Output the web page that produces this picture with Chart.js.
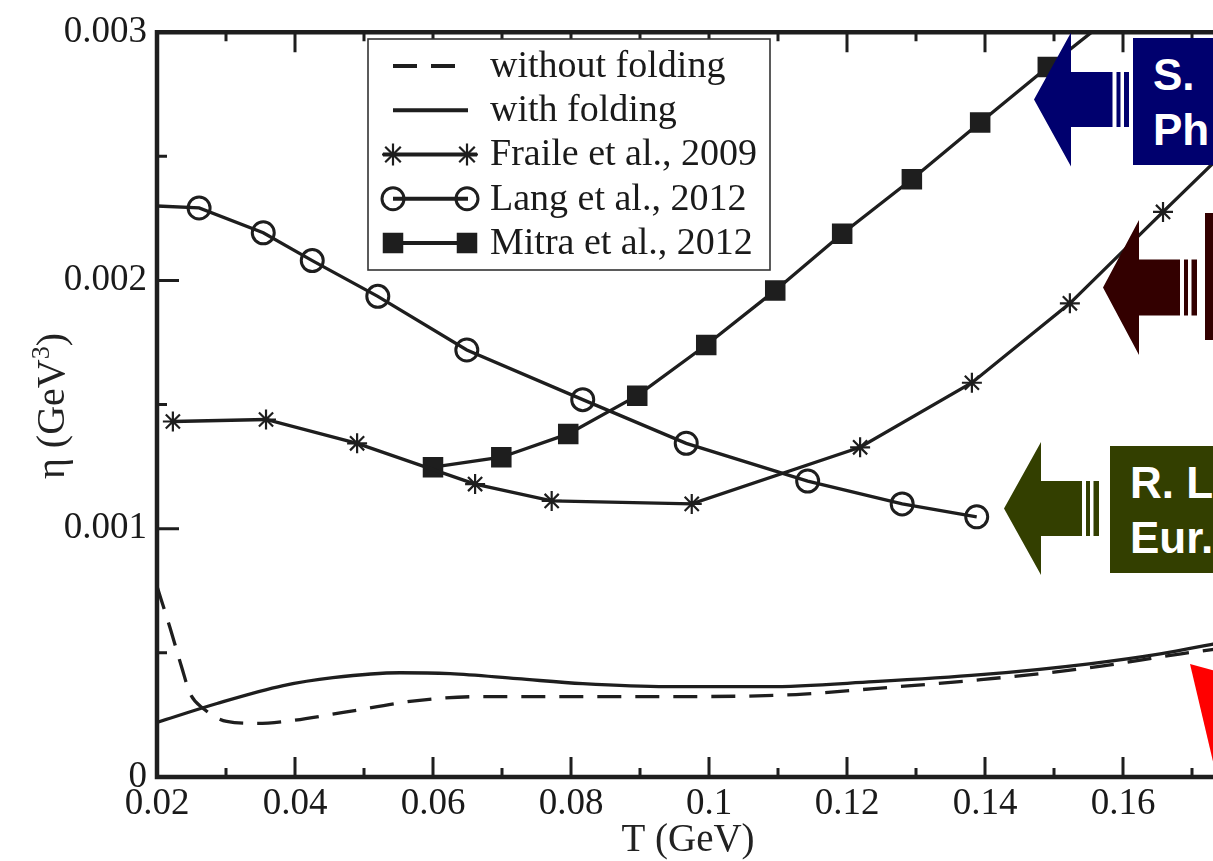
<!DOCTYPE html>
<html>
<head>
<meta charset="utf-8">
<script src="https://cdn.jsdelivr.net/npm/chart.js@4.4.1/dist/chart.umd.min.js"></script>
<style>
html, body { margin: 0; padding: 0; background: #fff; overflow: hidden; }
#wrap { position: relative; width: 1213px; height: 861px; overflow: hidden; }
#eta-canvas { position: absolute; left: 0; top: 0; }
.note {
    position: absolute; height: 127px; width: 420px; box-sizing: border-box;
    padding: 9px 0 0 20px; color: #fff; white-space: nowrap;
    font: bold 44px "Liberation Sans", Arial, sans-serif; line-height: 55px;
}
</style>
</head>
<body>
<div id="wrap">
    <canvas id="eta-canvas" width="1301" height="861"></canvas>
    <div class="note" style="left:1133px; top:38px; background:#00006e">S.<br>Ph</div>
    <div class="note" style="left:1205px; top:213px; background:#330000"></div>
    <div class="note" style="left:1110px; top:446px; background:#333f00">R. L<br>Eur.</div>
</div>
<script>
// axis ticks
const xTickVals = [0.02, 0.04, 0.06, 0.08, 0.10, 0.12, 0.14, 0.16, 0.18];
const xTickLabels = ['0.02', '0.04', '0.06', '0.08', '0.1', '0.12', '0.14', '0.16', '0.18'];
const xMinorVals = [0.03, 0.05, 0.07, 0.09, 0.11, 0.13, 0.15, 0.17];
const yTickVals = [0, 0.001, 0.002, 0.003];
const yTickLabels = ['0', '0.001', '0.002', '0.003'];
const yMinorVals = [0.0005, 0.0015, 0.0025];

// without folding (dashed)
const noFoldT   = [0.02, 0.0219, 0.0236, 0.0248, 0.0267, 0.0301, 0.0345, 0.0397, 0.047, 0.0577, 0.0672, 0.077, 0.0939, 0.1126, 0.1239, 0.1394, 0.1551, 0.1684, 0.18];
const noFoldEta = [0.000768, 0.0006, 0.00044, 0.000336, 0.000276, 0.000224, 0.000216, 0.000228, 0.00026, 0.000308, 0.000324, 0.000324, 0.000324, 0.000332, 0.000356, 0.000392, 0.00044, 0.000496, 0.00054];

// with folding (solid)
const foldT   = [0.02, 0.0287, 0.0383, 0.0455, 0.0552, 0.0625, 0.0722, 0.0817, 0.0939, 0.1084, 0.1239, 0.1394, 0.1551, 0.1654, 0.174, 0.18];
const foldEta = [0.00022, 0.000296, 0.000368, 0.0004, 0.00042, 0.000416, 0.000396, 0.000376, 0.000364, 0.000364, 0.000384, 0.000412, 0.000456, 0.000496, 0.00054, 0.00057];

// Fraile et al., 2009
const fraileT   = [0.0223, 0.0358, 0.049, 0.0661, 0.0772, 0.0975, 0.1219, 0.1381, 0.1523, 0.1658, 0.18];
const fraileEta = [0.001432, 0.00144, 0.001344, 0.00118, 0.001112, 0.0011, 0.001328, 0.001588, 0.001908, 0.002276, 0.00266];

// Lang et al., 2012
const langT   = [0.02, 0.0261, 0.0354, 0.0425, 0.052, 0.0649, 0.0817, 0.0967, 0.1143, 0.128, 0.1388];
const langEta = [0.0023, 0.002292, 0.002192, 0.00208, 0.001936, 0.00172, 0.00152, 0.001344, 0.001192, 0.0011, 0.001048];

// Mitra et al., 2012
const mitraT   = [0.06, 0.0699, 0.0796, 0.0896, 0.0996, 0.1096, 0.1193, 0.1294, 0.1393, 0.1491, 0.16];
const mitraEta = [0.001248, 0.001288, 0.001382, 0.001536, 0.00174, 0.00196, 0.002188, 0.002408, 0.002636, 0.00286, 0.0031];

const INK = '#1e1e1e';
const serif = '"Liberation Serif", "Times New Roman", serif';

const pts = (xs, ys) => xs.map((x, i) => ({x: x, y: ys[i]}));

function drawMarker(ctx, style, x, y, r) {
    ctx.beginPath();
    if (style === 'circle') {
        ctx.arc(x, y, r, 0, Math.PI * 2);
        ctx.stroke();
    } else if (style === 'rect') {
        const s = r * Math.SQRT1_2;
        ctx.fillRect(x - s, y - s, 2 * s, 2 * s);
    } else if (style === 'star') {
        for (let k = 0; k < 4; k++) {
            const a = k * Math.PI / 4;
            ctx.moveTo(x + Math.cos(a) * r, y + Math.sin(a) * r);
            ctx.lineTo(x - Math.cos(a) * r, y - Math.sin(a) * r);
        }
        ctx.stroke();
    }
}

// frame with inward ticks on left / bottom / top
const framePlugin = {
    id: 'frame',
    afterDatasetsDraw(chart) {
        const {ctx, chartArea: a, scales: {x, y}} = chart;
        ctx.save();
        ctx.strokeStyle = INK;
        ctx.lineWidth = 4.5;
        ctx.beginPath();
        ctx.moveTo(a.right, a.top); ctx.lineTo(a.left, a.top);
        ctx.lineTo(a.left, a.bottom); ctx.lineTo(a.right, a.bottom);
        ctx.lineTo(a.right, a.top);
        ctx.stroke();
        ctx.lineWidth = 3;
        ctx.beginPath();
        const xt = (vals, len) => vals.forEach(v => {
            const px = x.getPixelForValue(v);
            ctx.moveTo(px, a.bottom); ctx.lineTo(px, a.bottom - len);
            ctx.moveTo(px, a.top); ctx.lineTo(px, a.top + len);
        });
        const yt = (vals, len) => vals.forEach(v => {
            const py = y.getPixelForValue(v);
            ctx.moveTo(a.left, py); ctx.lineTo(a.left + len, py);
            ctx.moveTo(a.right, py); ctx.lineTo(a.right - len, py);
        });
        xt(xTickVals, 20); xt(xMinorVals, 9);
        yt(yTickVals, 22); yt(yMinorVals, 10);
        ctx.stroke();
        ctx.restore();
    }
};

const legendPlugin = {
    id: 'boxLegend',
    afterDatasetsDraw(chart) {
        const ctx = chart.ctx;
        ctx.save();
        ctx.fillStyle = '#fff';
        ctx.fillRect(368, 39, 402, 231);
        ctx.strokeStyle = '#333';
        ctx.lineWidth = 1.6;
        ctx.strokeRect(368, 39, 402, 231);
        ctx.font = '38px ' + serif;
        ctx.textBaseline = 'middle';
        chart.data.datasets.forEach((ds, i) => {
            const yy = 66 + i * 44.25;
            ctx.strokeStyle = INK;
            ctx.fillStyle = INK;
            ctx.lineWidth = 4;
            ctx.setLineDash(ds.borderDash || []);
            ctx.beginPath();
            if (ds.legendMarker === 'star') { ctx.moveTo(383, yy); ctx.lineTo(477, yy); }
            else { ctx.moveTo(393, yy); ctx.lineTo(468, yy); }
            ctx.stroke();
            ctx.setLineDash([]);
            if (ds.legendMarker) {
                ctx.lineWidth = ds.legendMarker === 'circle' ? 3 : 2.2;
                drawMarker(ctx, ds.legendMarker, 393, yy, ds.legendMarker === 'rect' ? 14.5 : 11);
                drawMarker(ctx, ds.legendMarker, 467, yy, ds.legendMarker === 'rect' ? 14.5 : 11);
            }
            ctx.fillStyle = '#1a1a1a';
            ctx.fillText(ds.label, 490, yy + 1);
        });
        ctx.restore();
    }
};

const titlesPlugin = {
    id: 'axisTitles',
    afterDraw(chart) {
        const ctx = chart.ctx;
        ctx.save();
        ctx.fillStyle = '#222';
        ctx.textBaseline = 'alphabetic';
        ctx.textAlign = 'center';
        ctx.font = '39px ' + serif;
        ctx.fillText('T (GeV)', 688, 851);

        // rotated y title with superscript
        ctx.translate(64, 406);
        ctx.rotate(-Math.PI / 2);
        ctx.textAlign = 'left';
        const p1 = 'η (GeV', p2 = '3', p3 = ')';
        ctx.font = '40px ' + serif;
        const w1 = ctx.measureText(p1).width, w3 = ctx.measureText(p3).width;
        ctx.font = '26px ' + serif;
        const w2 = ctx.measureText(p2).width;
        let x0 = -(w1 + w2 + w3) / 2;
        ctx.font = '40px ' + serif;
        ctx.fillText(p1, x0, 0);
        ctx.font = '26px ' + serif;
        ctx.fillText(p2, x0 + w1, -15);
        ctx.font = '40px ' + serif;
        ctx.fillText(p3, x0 + w1 + w2, 0);
        ctx.restore();
    }
};

// slide annotations: striped arrows pointing at the curves, red pointer
const arrowSpecs = [
    {color: '#00006e', tipX: 1034, cy: 99.5, headX: 1071, headHalf: 67, shaftX: 1112.5, shaftHalf: 27.5, stripes: [[1116.5, 1120.5], [1124, 1129]]},
    {color: '#330000', tipX: 1103, cy: 287.5, headX: 1139, headHalf: 67.5, shaftX: 1180, shaftHalf: 28, stripes: [[1184, 1188], [1191.5, 1197]]},
    {color: '#333f00', tipX: 1004, cy: 508.5, headX: 1041, headHalf: 66.5, shaftX: 1082, shaftHalf: 27.5, stripes: [[1086, 1090], [1093.5, 1099]]}
];

const annotPlugin = {
    id: 'slideAnnotations',
    afterDraw(chart) {
        const ctx = chart.ctx;
        ctx.save();
        arrowSpecs.forEach(a => {
            ctx.fillStyle = a.color;
            ctx.beginPath();
            ctx.moveTo(a.tipX, a.cy);
            ctx.lineTo(a.headX, a.cy - a.headHalf);
            ctx.lineTo(a.headX, a.cy - a.shaftHalf);
            ctx.lineTo(a.shaftX, a.cy - a.shaftHalf);
            ctx.lineTo(a.shaftX, a.cy + a.shaftHalf);
            ctx.lineTo(a.headX, a.cy + a.shaftHalf);
            ctx.lineTo(a.headX, a.cy + a.headHalf);
            ctx.closePath();
            ctx.fill();
            a.stripes.forEach(s => ctx.fillRect(s[0], a.cy - a.shaftHalf, s[1] - s[0], 2 * a.shaftHalf));
        });
        ctx.fillStyle = '#ff0000';
        ctx.beginPath();
        ctx.moveTo(1190, 664);
        ctx.lineTo(1300, 694);
        ctx.lineTo(1215, 770);
        ctx.closePath();
        ctx.fill();
        ctx.restore();
    }
};

const tickFont = {family: serif, size: 37};

const etaChart = new Chart(document.querySelector('#eta-canvas'), {
    type: 'line',
    data: {
        datasets: [
            {
                label: 'without folding',
                data: pts(noFoldT, noFoldEta),
                borderColor: INK, borderWidth: 3.3, borderDash: [24, 14],
                pointRadius: 0, cubicInterpolationMode: 'monotone'
            },
            {
                label: 'with folding',
                data: pts(foldT, foldEta),
                borderColor: INK, borderWidth: 3.3,
                pointRadius: 0, cubicInterpolationMode: 'monotone'
            },
            {
                label: 'Fraile et al., 2009',
                data: pts(fraileT, fraileEta),
                borderColor: INK, borderWidth: 3.3, tension: 0,
                pointStyle: 'star', pointRadius: 10, pointBorderWidth: 2.2,
                pointBorderColor: INK, legendMarker: 'star'
            },
            {
                label: 'Lang et al., 2012',
                data: pts(langT, langEta),
                borderColor: INK, borderWidth: 3.3, tension: 0,
                pointStyle: 'circle', pointRadius: langT.map((t, i) => i === 0 ? 0 : 11),
                pointBorderWidth: 3, pointBorderColor: INK,
                pointBackgroundColor: 'rgba(0,0,0,0)', legendMarker: 'circle'
            },
            {
                label: 'Mitra et al., 2012',
                data: pts(mitraT, mitraEta),
                borderColor: INK, borderWidth: 3.3, tension: 0,
                pointStyle: 'rect', pointRadius: 14.5, pointBorderWidth: 0,
                pointBackgroundColor: INK, legendMarker: 'rect'
            }
        ]
    },
    options: {
        responsive: false,
        animation: false,
        events: [],
        layout: {padding: {left: 0, top: 27, right: 40, bottom: 0}},
        plugins: {
            legend: {display: false},
            tooltip: {enabled: false}
        },
        scales: {
            x: {
                type: 'linear',
                min: 0.02,
                max: 0.18,
                grid: {display: false, drawTicks: false},
                border: {display: false},
                afterBuildTicks: scale => { scale.ticks = xTickVals.map(v => ({value: v})); },
                afterFit: scale => { scale.height = 84; },
                ticks: {
                    callback: (v, i) => xTickLabels[i],
                    font: tickFont, color: '#1a1a1a',
                    padding: 5, maxRotation: 0, autoSkip: false
                }
            },
            y: {
                type: 'linear',
                min: 0,
                max: 0.003,
                grid: {display: false, drawTicks: false},
                border: {display: false},
                afterBuildTicks: scale => { scale.ticks = yTickVals.map(v => ({value: v})); },
                afterFit: scale => { scale.width = 157; },
                ticks: {
                    callback: (v, i) => yTickLabels[i],
                    font: tickFont, color: '#1a1a1a',
                    padding: 10, autoSkip: false
                }
            }
        }
    },
    plugins: [framePlugin, legendPlugin, titlesPlugin, annotPlugin]
});
</script>
</body>
</html>
